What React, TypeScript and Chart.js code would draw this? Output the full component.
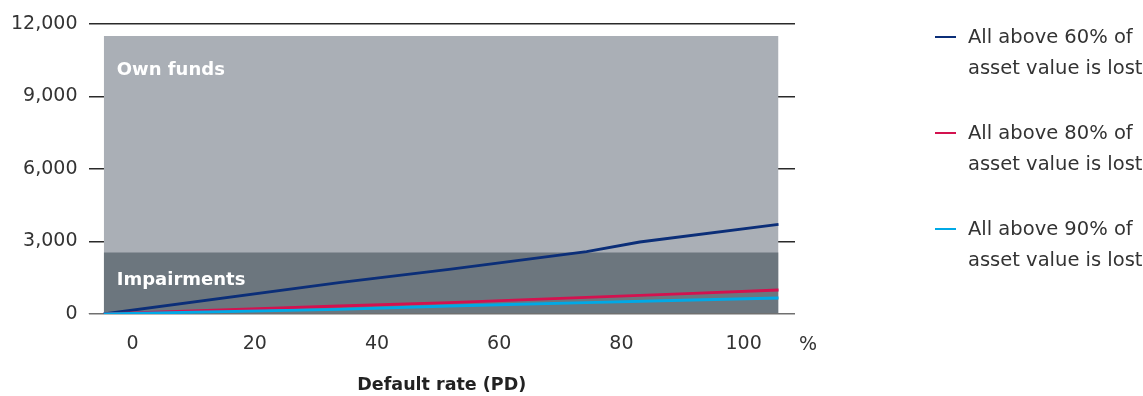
import React, { useEffect, useRef } from "react";
import { Chart, registerables } from "chart.js";

Chart.register(...registerables);

const FONT = "'DejaVu Sans', 'Noto Sans', sans-serif";

// Axis ranges and ticks
const xMin = -7.2;
const xMax = 108.4;
const xTicks = [0, 20, 40, 60, 80, 100];
const yMin = 0;
const yMax = 12000;
const yTicks = [0, 3000, 6000, 9000, 12000];

// Capital bands (shaded areas)
const bandPd = [-4.7, 105.7];
const ownFundsLevel = 11500;
const impairmentsLevel = 2550;
const bandLabels = ["Own funds", "Impairments"];

// Loss series: default rate (PD, %) vs loss
const pd60 = [-4.7, 33.8, 51.8, 74.3, 83.0, 105.7];
const loss60 = [0, 1295, 1849, 2578, 2979, 3711];
const pd80 = [-4.7, 33.8, 51.8, 74.3, 91.7, 105.7];
const loss80 = [0, 331, 468, 691, 856, 993];
const pd90 = [-4.7, 33.8, 51.8, 74.3, 91.7, 105.7];
const loss90 = [0, 194, 331, 468, 579, 662];

const seriesLabels = [
  ["All above 60% of", "asset value is lost"],
  ["All above 80% of", "asset value is lost"],
  ["All above 90% of", "asset value is lost"],
];
const seriesColors = ["#0B2E78", "#D3124F", "#00A9E6"];

const xTitle = "Default rate (PD)";
const xUnit = "%";

const pts = (xs: number[], ys: number[]) => xs.map((x, i) => ({ x, y: ys[i] }));

const bandLabelPlugin = {
  id: "bandLabels",
  afterDatasetsDraw(chart: any) {
    const { ctx, scales } = chart;
    const xs = scales.x;
    const ys = scales.y;
    const left = xs.getPixelForValue(bandPd[0]) + 13;
    ctx.save();
    ctx.fillStyle = "#ffffff";
    ctx.font = `bold 18px ${FONT}`;
    ctx.textAlign = "left";
    ctx.textBaseline = "middle";
    ctx.fillText(bandLabels[0], left, ys.getPixelForValue(ownFundsLevel) + 34);
    ctx.fillText(bandLabels[1], left, ys.getPixelForValue(impairmentsLevel) + 28);
    ctx.restore();
  },
};

export default function App() {
  const ref = useRef<HTMLCanvasElement>(null);

  useEffect(() => {
    if (!ref.current) return;
    const chart = new Chart(ref.current, {
      type: "line",
      data: {
        datasets: [
          {
            label: seriesLabels[0].join(" "),
            data: pts(pd60, loss60),
            borderColor: seriesColors[0],
            borderWidth: 2.8,
            pointRadius: 0,
            tension: 0,
            order: 2,
          },
          {
            label: seriesLabels[1].join(" "),
            data: pts(pd80, loss80),
            borderColor: seriesColors[1],
            borderWidth: 2.8,
            pointRadius: 0,
            tension: 0,
            order: 1,
          },
          {
            label: seriesLabels[2].join(" "),
            data: pts(pd90, loss90),
            borderColor: seriesColors[2],
            borderWidth: 2.8,
            pointRadius: 0,
            tension: 0,
            order: 0,
          },
          {
            label: "baseline",
            data: pts([xMin, xMax], [0, 0]),
            borderColor: "#707070",
            borderWidth: 2,
            pointRadius: 0,
            order: 5,
          },
          {
            label: bandLabels[1],
            data: pts(bandPd, [impairmentsLevel, impairmentsLevel]),
            borderColor: "rgba(0,0,0,0)",
            borderWidth: 0,
            backgroundColor: "#6C767E",
            fill: "origin",
            pointRadius: 0,
            order: 6,
          },
          {
            label: bandLabels[0],
            data: pts(bandPd, [ownFundsLevel, ownFundsLevel]),
            borderColor: "rgba(0,0,0,0)",
            borderWidth: 0,
            backgroundColor: "#AAAFB6",
            fill: "origin",
            pointRadius: 0,
            order: 7,
          },
        ],
      },
      options: {
        animation: false,
        responsive: false,
        maintainAspectRatio: false,
        layout: { padding: { left: 0, right: 348, top: 24, bottom: 0 } },
        plugins: {
          legend: { display: false },
          tooltip: { enabled: false },
        },
        scales: {
          x: {
            type: "linear",
            min: xMin,
            max: xMax,
            grid: { display: false },
            border: { display: false },
            afterBuildTicks: (axis: any) => {
              axis.ticks = xTicks.map((v) => ({ value: v }));
            },
            afterFit: (s: any) => {
              s.height = 82;
            },
            ticks: {
              autoSkip: false,
              maxRotation: 0,
              padding: 10.5,
              color: "#333333",
              font: { family: FONT, size: 19 },
            },
            title: {
              display: true,
              text: xTitle,
              color: "#222222",
              font: { family: FONT, size: 17.5, weight: "bold" },
              padding: { top: 0, bottom: 0 },
            },
          },
          y: {
            type: "linear",
            min: yMin,
            max: yMax,
            afterBuildTicks: (axis: any) => {
              axis.ticks = yTicks.map((v) => ({ value: v }));
            },
            afterFit: (s: any) => {
              s.width = 88.5;
            },
            grid: {
              drawTicks: false,
              color: (c: any) => (c.tick && c.tick.value === 0 ? "#707070" : "#2a2a2a"),
              lineWidth: 1.5,
            },
            border: { display: false },
            ticks: {
              padding: 11,
              color: "#333333",
              font: { family: FONT, size: 19 },
              callback: (v: any) => Number(v).toLocaleString("en-US"),
            },
          },
        },
      },
      plugins: [bandLabelPlugin],
    } as any);
    return () => chart.destroy();
  }, []);

  return (
    <div
      style={{
        position: "absolute",
        left: 0,
        top: 0,
        width: 1143,
        height: 396,
        background: "#ffffff",
        fontFamily: FONT,
        color: "#333333",
      }}
    >
      <canvas
        ref={ref}
        width={1143}
        height={396}
        style={{ position: "absolute", left: 0, top: 0, width: 1143, height: 396 }}
      />
      <div
        style={{
          position: "absolute",
          left: 799,
          top: 332,
          width: 16,
          textAlign: "center",
          fontSize: 19,
          lineHeight: "22px",
        }}
      >
        {xUnit}
      </div>
      <div
        style={{
          position: "absolute",
          left: 935,
          top: 20.5,
          display: "flex",
          flexDirection: "column",
          gap: 34,
        }}
      >
        {seriesLabels.map((lines, i) => (
          <div key={i} style={{ display: "flex", alignItems: "flex-start" }}>
            <div
              style={{
                width: 21,
                height: 2.5,
                marginTop: 15,
                background: seriesColors[i],
                flex: "none",
              }}
            />
            <div
              style={{
                marginLeft: 12,
                fontSize: 19.5,
                lineHeight: "31px",
                whiteSpace: "nowrap",
              }}
            >
              {lines.map((l, j) => (
                <div key={j}>{l}</div>
              ))}
            </div>
          </div>
        ))}
      </div>
    </div>
  );
}
